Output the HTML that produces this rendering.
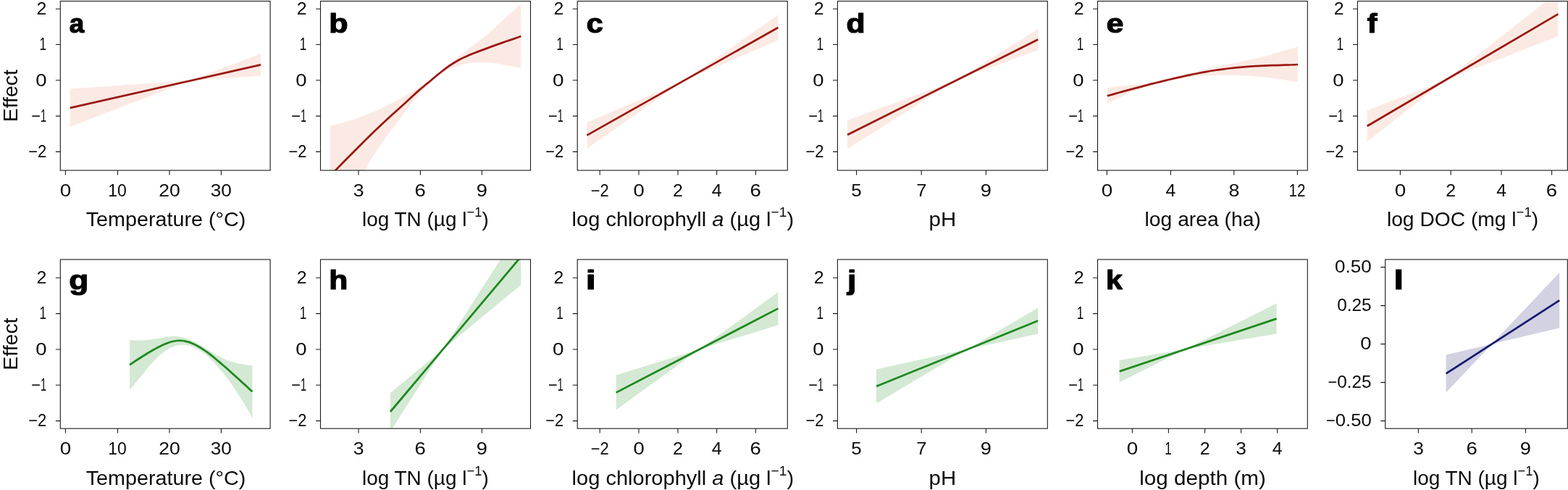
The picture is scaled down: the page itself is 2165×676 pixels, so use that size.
<!DOCTYPE html>
<html lang="en"><head><meta charset="utf-8"><title>Effect plots</title>
<style>
html,body{margin:0;padding:0;background:#fff;overflow:hidden}
svg{display:block}
text{font-family:"Liberation Sans",sans-serif;fill:#0a0a0a;white-space:pre}
.t{font-size:23px}
.x{font-size:28.5px}
.p{font-size:36px;font-weight:bold;fill:#000;stroke:#000;stroke-width:1.2;stroke-linejoin:round}
.f{fill:none;stroke:#1a1a1a;stroke-width:1.1}
.k{fill:none;stroke:#1a1a1a;stroke-width:1.1}
.c{fill:none;stroke-width:2.75;stroke-linecap:butt;stroke-linejoin:round}
</style></head><body>
<svg width="2165" height="676" viewBox="0 0 2165 676">
<rect x="0" y="0" width="2165" height="676" fill="#fff"/>
<g id="panel-a">
<clipPath id="cp-a"><rect x="83.30" y="1.60" width="289.80" height="233.45"/></clipPath>
<g clip-path="url(#cp-a)">
<polygon points="96.8,122.4 263.2,111.1 360.0,74.0 360.0,104.6 263.2,111.1 96.8,175.0" fill="#fbeae4"/>
<line class="c" x1="96.8" y1="148.8" x2="360.0" y2="89.4" stroke="#9b1812"/>
</g>
<rect class="f" x="83.30" y="1.60" width="289.80" height="233.45"/>
<path class="k" d="M76.90 12.20H83.30M76.90 61.50H83.30M76.90 110.80H83.30M76.90 160.10H83.30M76.90 209.40H83.30M90.40 235.05V241.45M162.40 235.05V241.45M234.00 235.05V241.45M305.40 235.05V241.45"/>
<text id="yt-a-0" class="t" x="50.56" y="19.90" textLength="13.87" lengthAdjust="spacingAndGlyphs">2</text>
<text id="yt-a-1" class="t" x="54.47" y="69.20" textLength="9.55" lengthAdjust="spacingAndGlyphs">1</text>
<text id="yt-a-2" class="t" x="49.15" y="118.50" textLength="15.29" lengthAdjust="spacingAndGlyphs">0</text>
<text id="yt-a-3" class="t" x="43.20" y="167.80"><tspan textLength="12.77" lengthAdjust="spacingAndGlyphs">−</tspan><tspan textLength="8.10" lengthAdjust="spacingAndGlyphs">1</tspan></text>
<text id="yt-a-4" class="t" x="39.27" y="217.10"><tspan textLength="12.77" lengthAdjust="spacingAndGlyphs">−</tspan><tspan textLength="12.25" lengthAdjust="spacingAndGlyphs">2</tspan></text>
<text id="xt-a-0" class="t" x="82.72" y="270.60" textLength="15.50" lengthAdjust="spacingAndGlyphs">0</text>
<text id="xt-a-1" class="t" x="149.28" y="270.60" textLength="25.59" lengthAdjust="spacingAndGlyphs">10</text>
<text id="xt-a-2" class="t" x="219.18" y="270.60" textLength="29.56" lengthAdjust="spacingAndGlyphs">20</text>
<text id="xt-a-3" class="t" x="290.71" y="270.60" textLength="29.12" lengthAdjust="spacingAndGlyphs">30</text>
<text id="ax-a" class="x" x="118.78" y="312.00" textLength="220.55" lengthAdjust="spacingAndGlyphs">Temperature (°C)</text>
<text id="pl-a" class="p" x="95.82" y="44.60" textLength="20.40" lengthAdjust="spacingAndGlyphs">a</text>
<text class="x" transform="translate(23.70 132.20) rotate(-90)" text-anchor="middle" textLength="72.20" lengthAdjust="spacingAndGlyphs">Effect</text>
</g>
<g id="panel-b">
<clipPath id="cp-b"><rect x="442.50" y="1.60" width="290.00" height="233.45"/></clipPath>
<g clip-path="url(#cp-b)">
<path d="M456.0 173.6C458.6 172.9 466.0 171.2 471.6 169.7C477.2 168.2 483.5 166.4 489.4 164.4C495.3 162.4 501.2 160.2 507.1 157.8C513.0 155.4 519.0 152.9 524.9 150.2C530.8 147.4 536.7 144.4 542.6 141.3C548.5 138.2 554.5 134.9 560.4 131.5C566.3 128.1 572.2 124.7 578.1 120.9C584.0 117.1 590.9 112.0 595.5 108.5C600.1 105.0 602.0 103.2 606.0 100.0C610.0 96.8 614.5 92.8 619.2 89.0C623.9 85.2 629.1 81.3 634.0 77.5C638.9 73.7 643.9 70.0 648.8 66.2C653.7 62.4 658.2 59.2 663.6 54.8C669.0 50.4 675.2 45.4 681.3 40.0C687.4 34.6 693.6 28.2 700.0 22.5C706.4 16.8 716.2 8.4 719.4 5.6L719.4 94.4C717.5 94.0 712.3 92.7 707.9 91.8C703.5 90.9 698.0 89.7 693.1 88.8C688.2 87.9 683.2 87.1 678.3 86.6C673.4 86.1 668.5 85.8 663.6 85.9C658.7 86.0 653.7 86.3 648.8 87.0C643.9 87.7 637.7 89.2 634.0 90.2C630.3 91.2 629.1 91.8 626.6 92.8C624.1 93.8 622.6 94.1 619.2 96.0C615.8 97.9 610.0 101.2 606.0 104.0C602.0 106.8 599.2 109.1 595.5 112.5C591.8 115.9 587.9 119.7 583.5 124.5C579.1 129.3 574.6 134.7 569.3 141.3C564.0 148.0 557.4 156.6 551.5 164.4C545.6 172.2 539.7 180.0 533.8 188.3C527.9 196.6 521.0 206.4 516.0 214.1C511.0 221.8 509.6 224.8 503.6 234.5C497.6 244.2 487.9 259.1 480.0 272.0C472.1 284.9 460.0 305.3 456.0 312.0Z" fill="#fbeae4"/>
<path class="c" d="M456.0 242.3C457.4 240.9 460.4 237.8 464.5 233.6C468.6 229.4 474.9 223.0 480.5 217.3C486.1 211.6 492.4 205.4 498.3 199.5C504.2 193.6 510.1 187.8 516.0 182.1C521.9 176.4 527.9 170.8 533.8 165.3C539.7 159.8 546.3 154.0 551.5 149.3C556.7 144.6 560.5 141.1 565.0 137.0C569.5 132.9 573.4 129.0 578.5 124.6C583.6 120.2 590.9 114.3 595.5 110.5C600.1 106.7 602.0 105.0 606.0 101.8C610.0 98.6 614.5 94.8 619.2 91.6C623.9 88.4 629.1 85.2 634.0 82.5C638.9 79.8 643.9 77.7 648.8 75.6C653.7 73.5 658.7 71.8 663.6 69.9C668.5 68.0 673.4 66.2 678.3 64.4C683.2 62.6 688.2 60.8 693.1 59.1C698.0 57.4 703.5 55.6 707.9 54.1C712.3 52.6 717.5 50.7 719.4 50.0" stroke="#9b1812"/>
</g>
<rect class="f" x="442.50" y="1.60" width="290.00" height="233.45"/>
<path class="k" d="M436.10 12.20H442.50M436.10 61.50H442.50M436.10 110.80H442.50M436.10 160.10H442.50M436.10 209.40H442.50M495.00 235.05V241.45M580.40 235.05V241.45M665.40 235.05V241.45"/>
<text id="yt-b-0" class="t" x="409.84" y="19.90" textLength="13.87" lengthAdjust="spacingAndGlyphs">2</text>
<text id="yt-b-1" class="t" x="413.69" y="69.20" textLength="9.56" lengthAdjust="spacingAndGlyphs">1</text>
<text id="yt-b-2" class="t" x="408.35" y="118.50" textLength="15.29" lengthAdjust="spacingAndGlyphs">0</text>
<text id="yt-b-3" class="t" x="402.27" y="167.80"><tspan textLength="12.77" lengthAdjust="spacingAndGlyphs">−</tspan><tspan textLength="8.07" lengthAdjust="spacingAndGlyphs">1</tspan></text>
<text id="yt-b-4" class="t" x="398.49" y="217.10"><tspan textLength="12.77" lengthAdjust="spacingAndGlyphs">−</tspan><tspan textLength="12.16" lengthAdjust="spacingAndGlyphs">2</tspan></text>
<text id="xt-b-0" class="t" x="487.69" y="270.60" textLength="14.80" lengthAdjust="spacingAndGlyphs">3</text>
<text id="xt-b-1" class="t" x="572.60" y="270.60" textLength="15.34" lengthAdjust="spacingAndGlyphs">6</text>
<text id="xt-b-2" class="t" x="657.77" y="270.60" textLength="15.15" lengthAdjust="spacingAndGlyphs">9</text>
<text id="ax-b" class="x" x="499.96" y="312.00" textLength="174.78" lengthAdjust="spacingAndGlyphs">log TN (µg l<tspan dy="-13" font-size="18.8">−1</tspan><tspan dy="13">)</tspan></text>
<text id="pl-b" class="p" x="454.20" y="44.60" textLength="26.26" lengthAdjust="spacingAndGlyphs">b</text>
</g>
<g id="panel-c">
<clipPath id="cp-c"><rect x="797.20" y="1.60" width="290.10" height="233.45"/></clipPath>
<g clip-path="url(#cp-c)">
<polygon points="810.4,169.0 944.6,111.2 1074.4,20.6 1074.4,55.4 944.6,111.2 810.4,205.0" fill="#fbeae4"/>
<line class="c" x1="810.4" y1="186.6" x2="1074.4" y2="38.0" stroke="#9b1812"/>
</g>
<rect class="f" x="797.20" y="1.60" width="290.10" height="233.45"/>
<path class="k" d="M790.80 12.20H797.20M790.80 61.50H797.20M790.80 110.80H797.20M790.80 160.10H797.20M790.80 209.40H797.20M828.20 235.05V241.45M882.00 235.05V241.45M936.00 235.05V241.45M989.60 235.05V241.45M1043.40 235.05V241.45"/>
<text id="yt-c-0" class="t" x="764.51" y="19.90" textLength="13.80" lengthAdjust="spacingAndGlyphs">2</text>
<text id="yt-c-1" class="t" x="768.36" y="69.20" textLength="9.56" lengthAdjust="spacingAndGlyphs">1</text>
<text id="yt-c-2" class="t" x="762.90" y="118.50" textLength="15.49" lengthAdjust="spacingAndGlyphs">0</text>
<text id="yt-c-3" class="t" x="756.96" y="167.80"><tspan textLength="12.77" lengthAdjust="spacingAndGlyphs">−</tspan><tspan textLength="7.98" lengthAdjust="spacingAndGlyphs">1</tspan></text>
<text id="yt-c-4" class="t" x="753.15" y="217.10"><tspan textLength="12.77" lengthAdjust="spacingAndGlyphs">−</tspan><tspan textLength="12.24" lengthAdjust="spacingAndGlyphs">2</tspan></text>
<text id="xt-c-0" class="t" x="815.65" y="270.60"><tspan textLength="12.77" lengthAdjust="spacingAndGlyphs">−</tspan><tspan textLength="12.20" lengthAdjust="spacingAndGlyphs">2</tspan></text>
<text id="xt-c-1" class="t" x="874.46" y="270.60" textLength="15.30" lengthAdjust="spacingAndGlyphs">0</text>
<text id="xt-c-2" class="t" x="929.11" y="270.60" textLength="13.89" lengthAdjust="spacingAndGlyphs">2</text>
<text id="xt-c-3" class="t" x="982.73" y="270.60" textLength="13.82" lengthAdjust="spacingAndGlyphs">4</text>
<text id="xt-c-4" class="t" x="1035.60" y="270.60" textLength="15.34" lengthAdjust="spacingAndGlyphs">6</text>
<text id="ax-c" class="x" x="789.60" y="312.00" textLength="306.50" lengthAdjust="spacingAndGlyphs">log chlorophyll <tspan font-style="italic">a</tspan> (µg l<tspan dy="-13" font-size="18.8">−1</tspan><tspan dy="13">)</tspan></text>
<text id="pl-c" class="p" x="809.74" y="44.60" textLength="23.00" lengthAdjust="spacingAndGlyphs">c</text>
</g>
<g id="panel-d">
<clipPath id="cp-d"><rect x="1156.40" y="1.60" width="289.90" height="233.45"/></clipPath>
<g clip-path="url(#cp-d)">
<polygon points="1170.0,166.0 1321.6,110.1 1433.2,40.0 1433.2,69.0 1321.6,110.1 1170.0,205.4" fill="#fbeae4"/>
<line class="c" x1="1170.0" y1="186.0" x2="1433.2" y2="54.6" stroke="#9b1812"/>
</g>
<rect class="f" x="1156.40" y="1.60" width="289.90" height="233.45"/>
<path class="k" d="M1150.00 12.20H1156.40M1150.00 61.50H1156.40M1150.00 110.80H1156.40M1150.00 160.10H1156.40M1150.00 209.40H1156.40M1182.60 235.05V241.45M1272.20 235.05V241.45M1361.40 235.05V241.45"/>
<text id="yt-d-0" class="t" x="1123.83" y="19.90" textLength="13.86" lengthAdjust="spacingAndGlyphs">2</text>
<text id="yt-d-1" class="t" x="1127.43" y="69.20" textLength="9.63" lengthAdjust="spacingAndGlyphs">1</text>
<text id="yt-d-2" class="t" x="1122.24" y="118.50" textLength="15.29" lengthAdjust="spacingAndGlyphs">0</text>
<text id="yt-d-3" class="t" x="1116.15" y="167.80"><tspan textLength="12.77" lengthAdjust="spacingAndGlyphs">−</tspan><tspan textLength="8.07" lengthAdjust="spacingAndGlyphs">1</tspan></text>
<text id="yt-d-4" class="t" x="1112.38" y="217.10"><tspan textLength="12.77" lengthAdjust="spacingAndGlyphs">−</tspan><tspan textLength="12.23" lengthAdjust="spacingAndGlyphs">2</tspan></text>
<text id="xt-d-0" class="t" x="1175.39" y="270.60" textLength="14.45" lengthAdjust="spacingAndGlyphs">5</text>
<text id="xt-d-1" class="t" x="1265.18" y="270.60" textLength="14.27" lengthAdjust="spacingAndGlyphs">7</text>
<text id="xt-d-2" class="t" x="1353.77" y="270.60" textLength="15.15" lengthAdjust="spacingAndGlyphs">9</text>
<text id="ax-d" class="x" x="1282.50" y="312.00" textLength="37.66" lengthAdjust="spacingAndGlyphs">pH</text>
<text id="pl-d" class="p" x="1168.61" y="44.60" textLength="26.03" lengthAdjust="spacingAndGlyphs">d</text>
</g>
<g id="panel-e">
<clipPath id="cp-e"><rect x="1515.50" y="1.60" width="289.80" height="233.45"/></clipPath>
<g clip-path="url(#cp-e)">
<path d="M1528.7 121.5C1530.6 121.2 1536.3 120.1 1540.1 119.6C1543.9 119.1 1547.8 118.8 1551.6 118.4C1555.4 118.0 1559.2 117.7 1563.0 117.3C1566.8 116.9 1570.7 116.6 1574.5 116.1C1578.3 115.6 1582.1 115.0 1585.9 114.4C1589.7 113.8 1593.6 113.1 1597.4 112.3C1601.2 111.5 1605.0 110.7 1608.8 109.8C1612.6 108.9 1616.5 108.0 1620.3 107.0C1624.1 106.0 1627.9 105.1 1631.7 104.1C1635.5 103.1 1639.4 102.1 1643.2 101.1C1647.0 100.1 1650.8 99.1 1654.6 98.1C1658.4 97.1 1662.3 96.2 1666.1 95.3C1669.9 94.4 1673.7 93.5 1677.5 92.6C1681.3 91.7 1685.2 90.9 1689.0 90.1C1692.8 89.3 1696.6 88.5 1700.4 87.7C1704.2 86.9 1708.1 86.2 1711.9 85.4C1715.7 84.6 1719.5 83.8 1723.3 82.9C1727.1 82.1 1731.0 81.2 1734.8 80.3C1738.6 79.4 1742.4 78.5 1746.2 77.5C1750.0 76.5 1753.9 75.5 1757.7 74.4C1761.5 73.3 1765.3 72.2 1769.1 71.1C1772.9 70.0 1776.8 68.8 1780.6 67.8C1784.4 66.8 1790.1 65.3 1792.0 64.8L1792.0 113.2C1790.1 112.9 1784.4 112.1 1780.6 111.5C1776.8 110.9 1772.9 110.3 1769.1 109.7C1765.3 109.1 1761.5 108.5 1757.7 108.0C1753.9 107.5 1750.0 107.0 1746.2 106.6C1742.4 106.2 1738.6 105.7 1734.8 105.4C1731.0 105.1 1727.1 104.8 1723.3 104.6C1719.5 104.4 1715.7 104.1 1711.9 104.0C1708.1 103.9 1704.2 103.8 1700.4 103.8C1696.6 103.8 1692.8 103.8 1689.0 103.8C1685.2 103.8 1681.3 103.9 1677.5 104.0C1673.7 104.1 1669.9 104.3 1666.1 104.5C1662.3 104.7 1658.4 105.0 1654.6 105.3C1650.8 105.6 1647.0 106.0 1643.2 106.4C1639.4 106.8 1635.5 107.2 1631.7 107.8C1627.9 108.3 1624.1 109.0 1620.3 109.7C1616.5 110.4 1612.6 111.1 1608.8 111.9C1605.0 112.7 1601.2 113.7 1597.4 114.7C1593.6 115.7 1589.7 116.8 1585.9 118.1C1582.1 119.3 1578.3 120.8 1574.5 122.2C1570.7 123.7 1566.8 125.2 1563.0 126.8C1559.2 128.4 1555.4 130.2 1551.6 132.0C1547.8 133.8 1543.9 135.7 1540.1 137.6C1536.3 139.5 1530.6 142.5 1528.7 143.5Z" fill="#fbeae4"/>
<path class="c" d="M1528.7 132.3C1530.6 131.8 1536.3 130.2 1540.1 129.1C1543.9 128.0 1547.8 127.0 1551.6 125.9C1555.4 124.9 1559.2 123.8 1563.0 122.8C1566.8 121.8 1570.7 120.8 1574.5 119.8C1578.3 118.8 1582.1 117.9 1585.9 116.9C1589.7 115.9 1593.6 115.0 1597.4 114.0C1601.2 113.0 1605.0 112.0 1608.8 111.1C1612.6 110.2 1616.5 109.3 1620.3 108.4C1624.1 107.5 1627.9 106.7 1631.7 105.8C1635.5 104.9 1639.4 104.1 1643.2 103.3C1647.0 102.5 1650.8 101.7 1654.6 101.0C1658.4 100.3 1662.3 99.6 1666.1 98.9C1669.9 98.2 1673.7 97.6 1677.5 97.0C1681.3 96.4 1685.2 95.9 1689.0 95.4C1692.8 94.9 1696.6 94.4 1700.4 94.0C1704.2 93.6 1708.1 93.1 1711.9 92.8C1715.7 92.5 1719.5 92.2 1723.3 91.9C1727.1 91.6 1731.0 91.3 1734.8 91.1C1738.6 90.9 1742.4 90.8 1746.2 90.6C1750.0 90.4 1753.9 90.3 1757.7 90.2C1761.5 90.1 1765.3 89.9 1769.1 89.8C1772.9 89.7 1776.8 89.6 1780.6 89.5C1784.4 89.4 1790.1 89.1 1792.0 89.0" stroke="#9b1812"/>
</g>
<rect class="f" x="1515.50" y="1.60" width="289.80" height="233.45"/>
<path class="k" d="M1509.10 12.20H1515.50M1509.10 61.50H1515.50M1509.10 110.80H1515.50M1509.10 160.10H1515.50M1509.10 209.40H1515.50M1528.40 235.05V241.45M1616.40 235.05V241.45M1703.80 235.05V241.45M1791.40 235.05V241.45"/>
<text id="yt-e-0" class="t" x="1482.84" y="19.90" textLength="13.87" lengthAdjust="spacingAndGlyphs">2</text>
<text id="yt-e-1" class="t" x="1486.69" y="69.20" textLength="9.56" lengthAdjust="spacingAndGlyphs">1</text>
<text id="yt-e-2" class="t" x="1481.35" y="118.50" textLength="15.29" lengthAdjust="spacingAndGlyphs">0</text>
<text id="yt-e-3" class="t" x="1475.27" y="167.80"><tspan textLength="12.77" lengthAdjust="spacingAndGlyphs">−</tspan><tspan textLength="8.07" lengthAdjust="spacingAndGlyphs">1</tspan></text>
<text id="yt-e-4" class="t" x="1471.49" y="217.10"><tspan textLength="12.77" lengthAdjust="spacingAndGlyphs">−</tspan><tspan textLength="12.16" lengthAdjust="spacingAndGlyphs">2</tspan></text>
<text id="xt-e-0" class="t" x="1520.72" y="270.60" textLength="15.50" lengthAdjust="spacingAndGlyphs">0</text>
<text id="xt-e-1" class="t" x="1609.61" y="270.60" textLength="13.77" lengthAdjust="spacingAndGlyphs">4</text>
<text id="xt-e-2" class="t" x="1696.46" y="270.60" textLength="14.95" lengthAdjust="spacingAndGlyphs">8</text>
<text id="xt-e-3" class="t" x="1779.62" y="270.60" textLength="22.96" lengthAdjust="spacingAndGlyphs">12</text>
<text id="ax-e" class="x" x="1580.53" y="312.00" textLength="160.40" lengthAdjust="spacingAndGlyphs">log area (ha)</text>
<text id="pl-e" class="p" x="1527.66" y="44.60" textLength="23.68" lengthAdjust="spacingAndGlyphs">e</text>
</g>
<g id="panel-f">
<clipPath id="cp-f"><rect x="1874.40" y="1.60" width="289.90" height="233.45"/></clipPath>
<g clip-path="url(#cp-f)">
<polygon points="1887.6,152.4 1996.7,110.1 2151.4,-11.3 2151.4,50.0 1996.7,110.1 1887.6,195.6" fill="#fbeae4"/>
<line class="c" x1="1887.6" y1="174.0" x2="2151.4" y2="19.4" stroke="#9b1812"/>
</g>
<rect class="f" x="1874.40" y="1.60" width="289.90" height="233.45"/>
<path class="k" d="M1868.00 12.20H1874.40M1868.00 61.50H1874.40M1868.00 110.80H1874.40M1868.00 160.10H1874.40M1868.00 209.40H1874.40M1933.40 235.05V241.45M2003.20 235.05V241.45M2073.00 235.05V241.45M2142.60 235.05V241.45"/>
<text id="yt-f-0" class="t" x="1841.83" y="19.90" textLength="13.86" lengthAdjust="spacingAndGlyphs">2</text>
<text id="yt-f-1" class="t" x="1845.43" y="69.20" textLength="9.63" lengthAdjust="spacingAndGlyphs">1</text>
<text id="yt-f-2" class="t" x="1840.24" y="118.50" textLength="15.29" lengthAdjust="spacingAndGlyphs">0</text>
<text id="yt-f-3" class="t" x="1834.15" y="167.80"><tspan textLength="12.77" lengthAdjust="spacingAndGlyphs">−</tspan><tspan textLength="8.07" lengthAdjust="spacingAndGlyphs">1</tspan></text>
<text id="yt-f-4" class="t" x="1830.38" y="217.10"><tspan textLength="12.77" lengthAdjust="spacingAndGlyphs">−</tspan><tspan textLength="12.23" lengthAdjust="spacingAndGlyphs">2</tspan></text>
<text id="xt-f-0" class="t" x="1925.72" y="270.60" textLength="15.50" lengthAdjust="spacingAndGlyphs">0</text>
<text id="xt-f-1" class="t" x="1996.32" y="270.60" textLength="13.89" lengthAdjust="spacingAndGlyphs">2</text>
<text id="xt-f-2" class="t" x="2066.15" y="270.60" textLength="13.70" lengthAdjust="spacingAndGlyphs">4</text>
<text id="xt-f-3" class="t" x="2134.86" y="270.60" textLength="15.36" lengthAdjust="spacingAndGlyphs">6</text>
<text id="ax-f" class="x" x="1914.93" y="312.00" textLength="209.25" lengthAdjust="spacingAndGlyphs">log DOC (mg l<tspan dy="-13" font-size="18.8">−1</tspan><tspan dy="13">)</tspan></text>
<text id="pl-f" class="p" x="1887.70" y="44.60" textLength="13.65" lengthAdjust="spacingAndGlyphs">f</text>
</g>
<g id="panel-g">
<clipPath id="cp-g"><rect x="83.30" y="358.00" width="289.80" height="233.20"/></clipPath>
<g clip-path="url(#cp-g)">
<path d="M179.1 469.0C180.1 469.1 182.9 469.4 184.9 469.5C186.9 469.6 188.8 469.6 190.8 469.6C192.8 469.6 194.8 469.6 196.7 469.5C198.6 469.4 200.6 469.3 202.5 469.1C204.4 468.9 206.4 468.7 208.4 468.4C210.4 468.1 212.3 467.8 214.3 467.5C216.3 467.2 218.2 466.9 220.2 466.5C222.2 466.1 224.2 465.7 226.2 465.4C228.2 465.1 230.1 464.8 232.1 464.6C234.1 464.4 235.9 464.2 237.9 464.1C239.9 464.0 241.9 464.0 243.9 464.1C245.9 464.2 247.8 464.4 249.7 464.8C251.6 465.2 253.7 465.7 255.6 466.3C257.6 466.9 259.5 467.5 261.4 468.3C263.3 469.1 265.2 470.0 267.1 470.9C269.0 471.8 271.0 472.8 272.9 473.9C274.8 474.9 276.7 476.0 278.6 477.2C280.5 478.4 282.6 479.6 284.5 480.8C286.4 482.0 288.3 483.2 290.2 484.4C292.1 485.6 294.0 486.8 295.9 487.9C297.8 489.0 299.9 490.2 301.8 491.3C303.8 492.4 305.7 493.4 307.6 494.3C309.5 495.2 311.5 496.1 313.4 496.8C315.3 497.6 317.3 498.2 319.2 498.8C321.1 499.4 323.1 499.9 325.0 500.4C326.9 500.9 328.9 501.3 330.9 501.7C332.8 502.1 334.8 502.4 336.7 502.7C338.6 503.0 340.7 503.2 342.6 503.4C344.6 503.6 347.4 504.0 348.4 504.1L348.4 576.8C347.4 575.0 344.6 569.7 342.6 566.3C340.7 562.9 338.6 559.5 336.7 556.3C334.8 553.1 332.8 549.9 330.9 546.9C328.9 543.9 326.9 540.9 325.0 538.0C323.1 535.1 321.1 532.3 319.2 529.6C317.3 526.9 315.4 524.2 313.5 521.7C311.6 519.2 309.5 516.7 307.6 514.3C305.7 511.9 303.8 509.6 301.9 507.4C300.0 505.2 297.9 503.0 296.0 501.0C294.1 499.0 292.2 497.0 290.3 495.2C288.4 493.4 286.5 491.7 284.6 490.1C282.7 488.5 280.8 487.1 278.9 485.7C277.0 484.3 275.1 483.1 273.2 482.0C271.3 480.9 269.3 479.9 267.4 479.1C265.5 478.3 263.6 477.6 261.7 477.1C259.8 476.6 257.9 476.2 256.0 476.0C254.1 475.8 252.0 475.7 250.1 475.8C248.2 475.9 246.3 476.2 244.3 476.7C242.3 477.2 240.3 477.9 238.3 478.7C236.3 479.5 234.4 480.5 232.4 481.6C230.4 482.7 228.5 484.1 226.5 485.5C224.5 486.9 222.4 488.6 220.4 490.3C218.4 492.0 216.5 493.9 214.5 495.9C212.5 497.9 210.5 500.1 208.5 502.3C206.5 504.5 204.6 506.9 202.6 509.2C200.6 511.5 198.7 514.0 196.7 516.4C194.7 518.8 192.8 521.4 190.8 523.8C188.9 526.2 186.9 528.6 185.0 531.0C183.1 533.4 180.1 536.8 179.1 538.0Z" fill="#d4e9d4"/>
<path class="c" d="M179.1 503.3C180.1 502.6 183.1 500.6 185.0 499.3C186.9 498.0 188.8 496.8 190.8 495.5C192.8 494.2 194.8 492.9 196.8 491.7C198.8 490.4 200.7 489.2 202.7 488.0C204.7 486.8 206.6 485.6 208.6 484.5C210.6 483.4 212.6 482.2 214.6 481.1C216.6 480.0 218.6 479.0 220.6 478.0C222.6 477.0 224.7 476.0 226.7 475.1C228.7 474.2 230.6 473.5 232.6 472.8C234.6 472.1 236.6 471.5 238.6 471.0C240.6 470.5 242.6 470.2 244.6 470.0C246.6 469.8 248.4 469.9 250.4 470.0C252.4 470.1 254.4 470.4 256.3 470.8C258.2 471.2 260.1 471.7 262.0 472.4C263.9 473.1 265.8 473.9 267.7 474.8C269.6 475.7 271.5 476.6 273.4 477.7C275.3 478.8 277.1 479.9 279.0 481.1C280.9 482.3 282.9 483.6 284.8 485.0C286.7 486.4 288.5 487.7 290.4 489.2C292.3 490.7 294.2 492.2 296.1 493.8C298.0 495.4 300.0 497.0 301.9 498.6C303.8 500.2 305.7 501.8 307.6 503.5C309.5 505.2 311.6 506.9 313.5 508.6C315.4 510.3 317.3 512.0 319.2 513.7C321.1 515.4 323.1 517.2 325.0 519.0C326.9 520.8 328.9 522.4 330.9 524.2C332.8 526.0 334.8 527.8 336.7 529.6C338.6 531.4 340.7 533.1 342.6 534.9C344.6 536.7 347.4 539.4 348.4 540.3" stroke="#1f881f"/>
</g>
<rect class="f" x="83.30" y="358.00" width="289.80" height="233.20"/>
<path class="k" d="M76.90 383.29H83.30M76.90 432.62H83.30M76.90 481.95H83.30M76.90 531.28H83.30M76.90 580.61H83.30M90.40 591.20V597.60M162.40 591.20V597.60M234.00 591.20V597.60M305.40 591.20V597.60"/>
<text id="yt-g-0" class="t" x="50.56" y="390.99" textLength="13.87" lengthAdjust="spacingAndGlyphs">2</text>
<text id="yt-g-1" class="t" x="54.47" y="440.32" textLength="9.55" lengthAdjust="spacingAndGlyphs">1</text>
<text id="yt-g-2" class="t" x="49.15" y="489.65" textLength="15.29" lengthAdjust="spacingAndGlyphs">0</text>
<text id="yt-g-3" class="t" x="43.20" y="538.98"><tspan textLength="12.77" lengthAdjust="spacingAndGlyphs">−</tspan><tspan textLength="8.10" lengthAdjust="spacingAndGlyphs">1</tspan></text>
<text id="yt-g-4" class="t" x="39.27" y="588.31"><tspan textLength="12.77" lengthAdjust="spacingAndGlyphs">−</tspan><tspan textLength="12.25" lengthAdjust="spacingAndGlyphs">2</tspan></text>
<text id="xt-g-0" class="t" x="82.72" y="627.00" textLength="15.50" lengthAdjust="spacingAndGlyphs">0</text>
<text id="xt-g-1" class="t" x="149.28" y="627.00" textLength="25.59" lengthAdjust="spacingAndGlyphs">10</text>
<text id="xt-g-2" class="t" x="219.18" y="627.00" textLength="29.56" lengthAdjust="spacingAndGlyphs">20</text>
<text id="xt-g-3" class="t" x="290.71" y="627.00" textLength="29.12" lengthAdjust="spacingAndGlyphs">30</text>
<text id="ax-g" class="x" x="118.78" y="669.00" textLength="220.55" lengthAdjust="spacingAndGlyphs">Temperature (°C)</text>
<text id="pl-g" class="p" x="95.20" y="398.90" textLength="27.01" lengthAdjust="spacingAndGlyphs">g</text>
<text class="x" transform="translate(23.70 474.60) rotate(-90)" text-anchor="middle" textLength="72.20" lengthAdjust="spacingAndGlyphs">Effect</text>
</g>
<g id="panel-h">
<clipPath id="cp-h"><rect x="442.50" y="358.00" width="290.00" height="233.20"/></clipPath>
<g clip-path="url(#cp-h)">
<polygon points="539.0,542.0 611.3,482.3 719.4,313.7 719.4,393.0 611.3,482.3 539.0,595.0" fill="#d4e9d4"/>
<line class="c" x1="539.0" y1="568.0" x2="719.4" y2="354.0" stroke="#1f881f"/>
</g>
<rect class="f" x="442.50" y="358.00" width="290.00" height="233.20"/>
<path class="k" d="M436.10 383.29H442.50M436.10 432.62H442.50M436.10 481.95H442.50M436.10 531.28H442.50M436.10 580.61H442.50M495.00 591.20V597.60M580.40 591.20V597.60M665.40 591.20V597.60"/>
<text id="yt-h-0" class="t" x="409.84" y="390.99" textLength="13.87" lengthAdjust="spacingAndGlyphs">2</text>
<text id="yt-h-1" class="t" x="413.69" y="440.32" textLength="9.56" lengthAdjust="spacingAndGlyphs">1</text>
<text id="yt-h-2" class="t" x="408.35" y="489.65" textLength="15.29" lengthAdjust="spacingAndGlyphs">0</text>
<text id="yt-h-3" class="t" x="402.27" y="538.98"><tspan textLength="12.77" lengthAdjust="spacingAndGlyphs">−</tspan><tspan textLength="8.07" lengthAdjust="spacingAndGlyphs">1</tspan></text>
<text id="yt-h-4" class="t" x="398.49" y="588.31"><tspan textLength="12.77" lengthAdjust="spacingAndGlyphs">−</tspan><tspan textLength="12.16" lengthAdjust="spacingAndGlyphs">2</tspan></text>
<text id="xt-h-0" class="t" x="487.69" y="627.00" textLength="14.80" lengthAdjust="spacingAndGlyphs">3</text>
<text id="xt-h-1" class="t" x="572.60" y="627.00" textLength="15.34" lengthAdjust="spacingAndGlyphs">6</text>
<text id="xt-h-2" class="t" x="657.77" y="627.00" textLength="15.15" lengthAdjust="spacingAndGlyphs">9</text>
<text id="ax-h" class="x" x="499.96" y="669.00" textLength="174.78" lengthAdjust="spacingAndGlyphs">log TN (µg l<tspan dy="-13" font-size="18.8">−1</tspan><tspan dy="13">)</tspan></text>
<text id="pl-h" class="p" x="454.27" y="398.90" textLength="26.01" lengthAdjust="spacingAndGlyphs">h</text>
</g>
<g id="panel-i">
<clipPath id="cp-i"><rect x="797.20" y="358.00" width="290.10" height="233.20"/></clipPath>
<g clip-path="url(#cp-i)">
<polygon points="850.6,517.6 965.6,482.0 1074.4,403.0 1074.4,448.4 965.6,482.0 850.6,565.6" fill="#d4e9d4"/>
<line class="c" x1="850.6" y1="541.6" x2="1074.4" y2="425.6" stroke="#1f881f"/>
</g>
<rect class="f" x="797.20" y="358.00" width="290.10" height="233.20"/>
<path class="k" d="M790.80 383.29H797.20M790.80 432.62H797.20M790.80 481.95H797.20M790.80 531.28H797.20M790.80 580.61H797.20M828.20 591.20V597.60M882.00 591.20V597.60M936.00 591.20V597.60M989.60 591.20V597.60M1043.40 591.20V597.60"/>
<text id="yt-i-0" class="t" x="764.51" y="390.99" textLength="13.80" lengthAdjust="spacingAndGlyphs">2</text>
<text id="yt-i-1" class="t" x="768.36" y="440.32" textLength="9.56" lengthAdjust="spacingAndGlyphs">1</text>
<text id="yt-i-2" class="t" x="762.90" y="489.65" textLength="15.49" lengthAdjust="spacingAndGlyphs">0</text>
<text id="yt-i-3" class="t" x="756.96" y="538.98"><tspan textLength="12.77" lengthAdjust="spacingAndGlyphs">−</tspan><tspan textLength="7.98" lengthAdjust="spacingAndGlyphs">1</tspan></text>
<text id="yt-i-4" class="t" x="753.15" y="588.31"><tspan textLength="12.77" lengthAdjust="spacingAndGlyphs">−</tspan><tspan textLength="12.24" lengthAdjust="spacingAndGlyphs">2</tspan></text>
<text id="xt-i-0" class="t" x="815.65" y="627.00"><tspan textLength="12.77" lengthAdjust="spacingAndGlyphs">−</tspan><tspan textLength="12.20" lengthAdjust="spacingAndGlyphs">2</tspan></text>
<text id="xt-i-1" class="t" x="874.46" y="627.00" textLength="15.30" lengthAdjust="spacingAndGlyphs">0</text>
<text id="xt-i-2" class="t" x="929.11" y="627.00" textLength="13.89" lengthAdjust="spacingAndGlyphs">2</text>
<text id="xt-i-3" class="t" x="982.73" y="627.00" textLength="13.82" lengthAdjust="spacingAndGlyphs">4</text>
<text id="xt-i-4" class="t" x="1035.60" y="627.00" textLength="15.34" lengthAdjust="spacingAndGlyphs">6</text>
<text id="ax-i" class="x" x="789.60" y="669.00" textLength="306.50" lengthAdjust="spacingAndGlyphs">log chlorophyll <tspan font-style="italic">a</tspan> (µg l<tspan dy="-13" font-size="18.8">−1</tspan><tspan dy="13">)</tspan></text>
<text id="pl-i" class="p" x="808.70" y="398.90" textLength="14.05" lengthAdjust="spacingAndGlyphs">i</text>
</g>
<g id="panel-j">
<clipPath id="cp-j"><rect x="1156.40" y="358.00" width="289.90" height="233.20"/></clipPath>
<g clip-path="url(#cp-j)">
<polygon points="1210.0,509.4 1336.1,481.8 1433.2,424.4 1433.2,460.6 1336.1,481.8 1210.0,556.4" fill="#d4e9d4"/>
<line class="c" x1="1210.0" y1="533.0" x2="1433.2" y2="442.6" stroke="#1f881f"/>
</g>
<rect class="f" x="1156.40" y="358.00" width="289.90" height="233.20"/>
<path class="k" d="M1150.00 383.29H1156.40M1150.00 432.62H1156.40M1150.00 481.95H1156.40M1150.00 531.28H1156.40M1150.00 580.61H1156.40M1182.60 591.20V597.60M1272.20 591.20V597.60M1361.40 591.20V597.60"/>
<text id="yt-j-0" class="t" x="1123.83" y="390.99" textLength="13.86" lengthAdjust="spacingAndGlyphs">2</text>
<text id="yt-j-1" class="t" x="1127.43" y="440.32" textLength="9.63" lengthAdjust="spacingAndGlyphs">1</text>
<text id="yt-j-2" class="t" x="1122.24" y="489.65" textLength="15.29" lengthAdjust="spacingAndGlyphs">0</text>
<text id="yt-j-3" class="t" x="1116.15" y="538.98"><tspan textLength="12.77" lengthAdjust="spacingAndGlyphs">−</tspan><tspan textLength="8.07" lengthAdjust="spacingAndGlyphs">1</tspan></text>
<text id="yt-j-4" class="t" x="1112.38" y="588.31"><tspan textLength="12.77" lengthAdjust="spacingAndGlyphs">−</tspan><tspan textLength="12.23" lengthAdjust="spacingAndGlyphs">2</tspan></text>
<text id="xt-j-0" class="t" x="1175.39" y="627.00" textLength="14.45" lengthAdjust="spacingAndGlyphs">5</text>
<text id="xt-j-1" class="t" x="1265.18" y="627.00" textLength="14.27" lengthAdjust="spacingAndGlyphs">7</text>
<text id="xt-j-2" class="t" x="1353.77" y="627.00" textLength="15.15" lengthAdjust="spacingAndGlyphs">9</text>
<text id="ax-j" class="x" x="1282.50" y="669.00" textLength="37.66" lengthAdjust="spacingAndGlyphs">pH</text>
<text id="pl-j" class="p" x="1170.06" y="398.90" textLength="12.38" lengthAdjust="spacingAndGlyphs">j</text>
</g>
<g id="panel-k">
<clipPath id="cp-k"><rect x="1515.50" y="358.00" width="289.80" height="233.20"/></clipPath>
<g clip-path="url(#cp-k)">
<polygon points="1545.6,497.0 1636.7,481.7 1762.6,418.6 1762.6,460.6 1636.7,481.7 1545.6,527.4" fill="#d4e9d4"/>
<line class="c" x1="1545.6" y1="512.4" x2="1762.6" y2="439.6" stroke="#1f881f"/>
</g>
<rect class="f" x="1515.50" y="358.00" width="289.80" height="233.20"/>
<path class="k" d="M1509.10 383.29H1515.50M1509.10 432.62H1515.50M1509.10 481.95H1515.50M1509.10 531.28H1515.50M1509.10 580.61H1515.50M1563.40 591.20V597.60M1613.40 591.20V597.60M1663.60 591.20V597.60M1713.60 591.20V597.60M1763.60 591.20V597.60"/>
<text id="yt-k-0" class="t" x="1482.84" y="390.99" textLength="13.87" lengthAdjust="spacingAndGlyphs">2</text>
<text id="yt-k-1" class="t" x="1486.69" y="440.32" textLength="9.56" lengthAdjust="spacingAndGlyphs">1</text>
<text id="yt-k-2" class="t" x="1481.35" y="489.65" textLength="15.29" lengthAdjust="spacingAndGlyphs">0</text>
<text id="yt-k-3" class="t" x="1475.27" y="538.98"><tspan textLength="12.77" lengthAdjust="spacingAndGlyphs">−</tspan><tspan textLength="8.07" lengthAdjust="spacingAndGlyphs">1</tspan></text>
<text id="yt-k-4" class="t" x="1471.49" y="588.31"><tspan textLength="12.77" lengthAdjust="spacingAndGlyphs">−</tspan><tspan textLength="12.16" lengthAdjust="spacingAndGlyphs">2</tspan></text>
<text id="xt-k-0" class="t" x="1555.72" y="627.00" textLength="15.50" lengthAdjust="spacingAndGlyphs">0</text>
<text id="xt-k-1" class="t" x="1608.36" y="627.00" textLength="9.56" lengthAdjust="spacingAndGlyphs">1</text>
<text id="xt-k-2" class="t" x="1656.70" y="627.00" textLength="13.87" lengthAdjust="spacingAndGlyphs">2</text>
<text id="xt-k-3" class="t" x="1706.23" y="627.00" textLength="14.64" lengthAdjust="spacingAndGlyphs">3</text>
<text id="xt-k-4" class="t" x="1756.73" y="627.00" textLength="13.82" lengthAdjust="spacingAndGlyphs">4</text>
<text id="ax-k" class="x" x="1573.27" y="669.00" textLength="174.61" lengthAdjust="spacingAndGlyphs">log depth (m)</text>
<text id="pl-k" class="p" x="1527.14" y="398.90" textLength="22.77" lengthAdjust="spacingAndGlyphs">k</text>
</g>
<g id="panel-l">
<clipPath id="cp-l"><rect x="1912.70" y="358.00" width="251.60" height="233.20"/></clipPath>
<g clip-path="url(#cp-l)">
<polygon points="1996.6,489.6 2060.0,474.5 2153.2,376.0 2153.2,452.4 2060.0,474.5 1996.6,541.6" fill="#d2d2e2"/>
<line class="c" x1="1996.6" y1="515.4" x2="2153.2" y2="414.4" stroke="#191970"/>
</g>
<rect class="f" x="1912.70" y="358.00" width="251.60" height="233.20"/>
<path class="k" d="M1906.30 368.60H1912.70M1906.30 421.60H1912.70M1906.30 474.60H1912.70M1906.30 527.60H1912.70M1906.30 580.60H1912.70M1958.40 591.20V597.60M2032.20 591.20V597.60M2106.40 591.20V597.60"/>
<text id="yt-l-0" class="t" x="1843.06" y="376.30" textLength="50.66" lengthAdjust="spacingAndGlyphs">0.50</text>
<text id="yt-l-1" class="t" x="1846.15" y="429.30" textLength="47.52" lengthAdjust="spacingAndGlyphs">0.25</text>
<text id="yt-l-2" class="t" x="1878.38" y="482.30" textLength="15.30" lengthAdjust="spacingAndGlyphs">0</text>
<text id="yt-l-3" class="t" x="1833.49" y="535.30"><tspan textLength="12.77" lengthAdjust="spacingAndGlyphs">−</tspan><tspan textLength="47.42" lengthAdjust="spacingAndGlyphs">0.25</tspan></text>
<text id="yt-l-4" class="t" x="1830.98" y="588.30"><tspan textLength="12.77" lengthAdjust="spacingAndGlyphs">−</tspan><tspan textLength="49.94" lengthAdjust="spacingAndGlyphs">0.50</tspan></text>
<text id="xt-l-0" class="t" x="1951.18" y="627.00" textLength="14.63" lengthAdjust="spacingAndGlyphs">3</text>
<text id="xt-l-1" class="t" x="2024.42" y="627.00" textLength="15.35" lengthAdjust="spacingAndGlyphs">6</text>
<text id="xt-l-2" class="t" x="2098.77" y="627.00" textLength="15.15" lengthAdjust="spacingAndGlyphs">9</text>
<text id="ax-l" class="x" x="1950.96" y="669.00" textLength="174.78" lengthAdjust="spacingAndGlyphs">log TN (µg l<tspan dy="-13" font-size="18.8">−1</tspan><tspan dy="13">)</tspan></text>
<text id="pl-l" class="p" x="1924.55" y="398.90" textLength="13.42" lengthAdjust="spacingAndGlyphs">l</text>
</g>
</svg>
</body></html>
